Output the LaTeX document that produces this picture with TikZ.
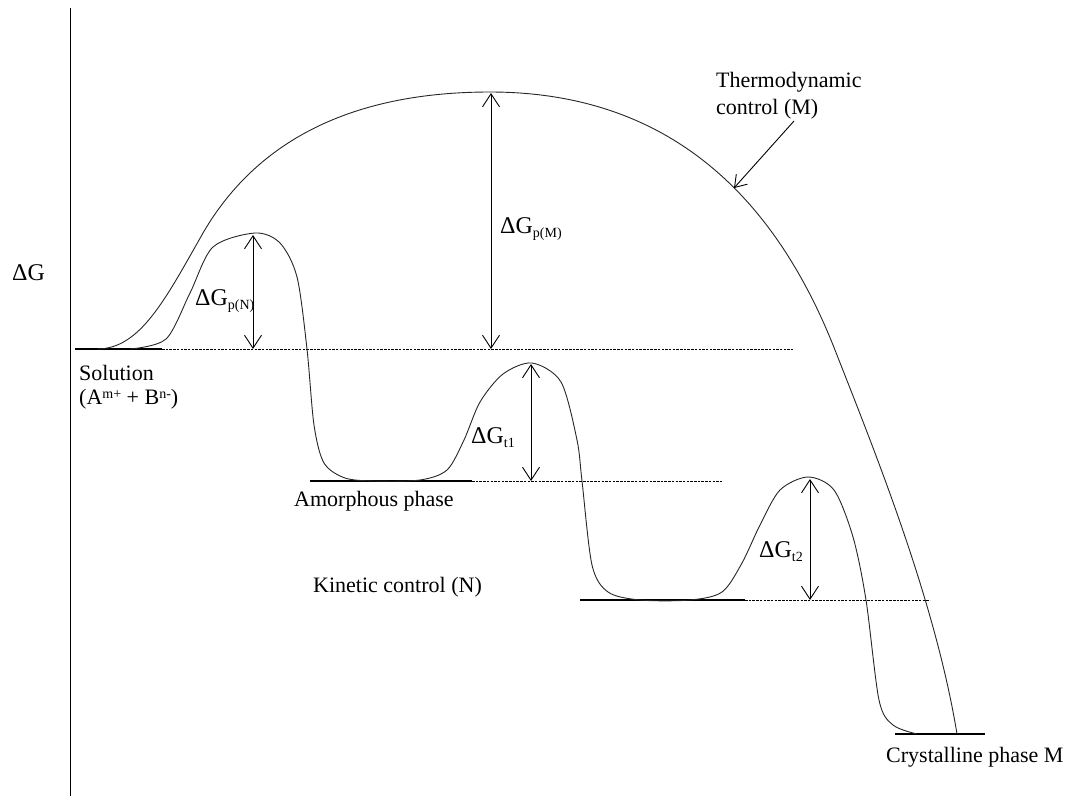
\documentclass[tikz,border=0pt]{standalone}
\usepackage{fontspec}
\setmainfont{Liberation Serif}
\usetikzlibrary{arrows.meta}
\newcommand{\lowtxt}[1]{\raisebox{-0.4ex}{\fontsize{14}{14}\selectfont #1}}
\newcommand{\hightxt}[1]{\raisebox{0.5ex}{\fontsize{14}{14}\selectfont #1}}
\begin{document}
\begin{tikzpicture}[x=1pt,y=-1pt,
  lbl/.style={font=\fontsize{22}{24}\selectfont, inner sep=0pt},
  dlbl/.style={font=\fontsize{24}{26}\selectfont, inner sep=0pt},
  curve/.style={line width=0.9pt, black!85},
  level/.style={line width=2.2pt},
  guide/.style={line width=0.6pt, dash pattern=on 2.5pt off 1.2pt},
  dim/.style={line width=0.9pt, {Straight Barb[length=13pt,width=17pt]}-{Straight Barb[length=13pt,width=17pt]}},
  pointer/.style={line width=0.9pt, -{Straight Barb[length=11pt,width=15pt]}},
]
\useasboundingbox (0,0) rectangle (1068,796);
% axis
\coordinate (axT) at (70,8);
\coordinate (axB) at (70,796);
\draw[line width=0.9pt] (axT) -- (axB);
\node[dlbl, anchor=base west] (dG) at (12,280) {ΔG};

% levels
\coordinate (sA) at (75,349);  \coordinate (sB) at (162,349); \coordinate (sC) at (793,349);
\coordinate (aA) at (310,481); \coordinate (aB) at (472,481); \coordinate (aC) at (722,481);
\coordinate (kA) at (580,600); \coordinate (kB) at (745,600); \coordinate (kC) at (930,600);
\coordinate (cA) at (895,734); \coordinate (cB) at (985,734);
\draw[level] (sA) -- (sB);
\draw[level] (aA) -- (aB);
\draw[level] (kA) -- (kB);
\draw[level] (cA) -- (cB);
\draw[guide] (sB) -- (sC);
\draw[guide] (aB) -- (aC);
\draw[guide] (kB) -- (kC);

% thermodynamic curve
\draw[curve] (97,349) .. controls (140,349) and (165,300) .. (203,233)
  .. controls (260,135) and (360,92) .. (490,92)
  .. controls (680,92) and (780,210) .. (835,350)
  .. controls (875,452) and (935,600) .. (957,734);

% kinetic curve
\draw[curve] plot[smooth, tension=0.5] coordinates {(130,349) (166,339) (190,293) (213,247) (255,233) (280,243) (297,277) (307,349) (314,425) (324,463) (345,478) (375,481) (420,480) (447,470) (464,440) (480,402) (503,374) (532,363) (561,382) (577,440) (582,481) (592,565) (608,592) (640,600) (690,600) (722,592) (742,563) (760,525) (780,490) (808,477) (834,490) (853,537) (866,600) (879,700) (893,725) (917,734)};

% dimension arrows
\coordinate (pN1) at (253,235); \coordinate (pN2) at (253,349);
\coordinate (pM1) at (491,93);  \coordinate (pM2) at (491,349);
\coordinate (t11) at (531,364); \coordinate (t12) at (531,481);
\coordinate (t21) at (810,479); \coordinate (t22) at (810,600);
\draw[dim] (pN1) -- (pN2);
\draw[dim] (pM1) -- (pM2);
\draw[dim] (t11) -- (t12);
\draw[dim] (t21) -- (t22);
\node[dlbl, anchor=base west] (lpN) at (195,305) {ΔG\lowtxt{p(N)}};
\node[dlbl, anchor=base west] (lpM) at (500,233) {ΔG\lowtxt{p(M)}};
\node[dlbl, anchor=base west] (lt1) at (471,443) {ΔG\lowtxt{t1}};
\node[dlbl, anchor=base west] (lt2) at (759,557) {ΔG\lowtxt{t2}};

% texts
\node[lbl, anchor=base west] (sol) at (79,380) {Solution};
\node[lbl, anchor=base west] (ion) at (79,404) {(A\hightxt{m+} + B\hightxt{n-})};
\node[lbl, anchor=base west] (amo) at (294,506) {Amorphous phase};
\node[lbl, anchor=base west] (kin) at (313,592) {Kinetic control (N)};
\node[lbl, anchor=base west] (cry) at (886,762) {Crystalline phase M};
\node[lbl, anchor=base west] (th1) at (716,87) {Thermodynamic};
\node[lbl, anchor=base west] (th2) at (716,114) {control (M)};
\coordinate (tail) at (794,121);
\coordinate (tip) at (734,188);
\draw[pointer] (tail) -- (tip);
\end{tikzpicture}
\end{document}
